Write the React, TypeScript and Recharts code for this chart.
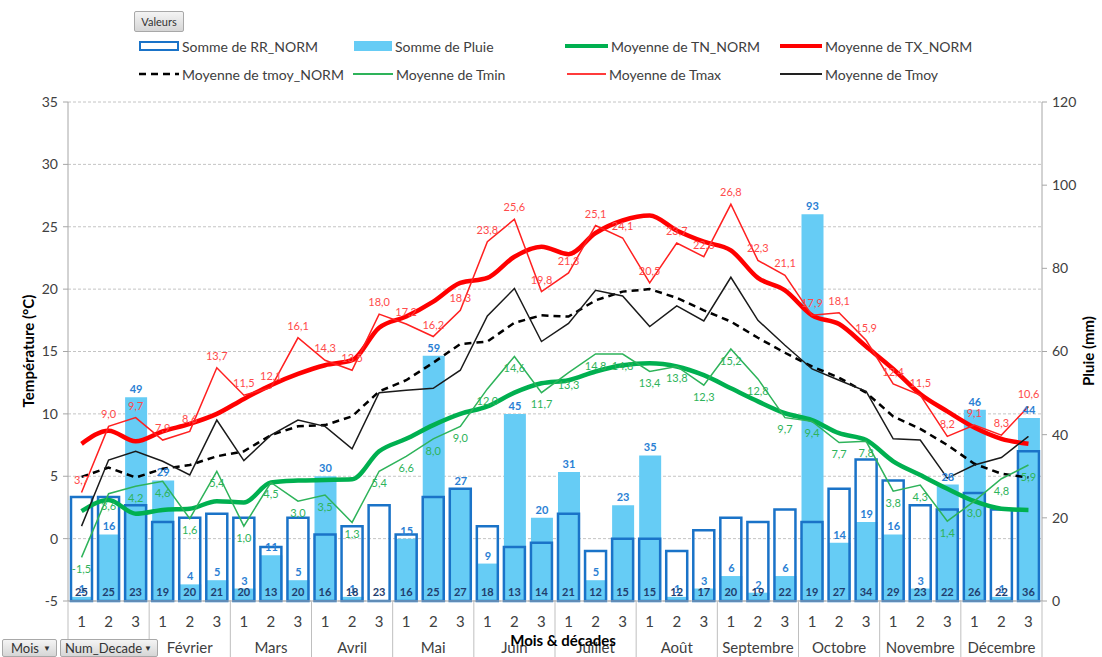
import React from 'react';
import { ComposedChart, Bar, Line, XAxis, YAxis, CartesianGrid, LabelList } from 'recharts';

// categories
const moisLabels = ['Janvier', 'Février', 'Mars', 'Avril', 'Mai', 'Juin', 'Juillet', 'Août', 'Septembre', 'Octobre', 'Novembre', 'Décembre'];
const decadeLabels = ['1', '2', '3'];

// rain (mm), right axis
const rrNorm = [25, 25, 23, 19, 20, 21, 20, 13, 20, 16, 18, 23, 16, 25, 27, 18, 13, 14, 21, 12, 15, 15, 12, 17, 20, 19, 22, 19, 27, 34, 29, 23, 22, 26, 22, 36];
const pluie = [1, 16, 49, 29, 4, 5, 3, 11, 5, 30, 1, 0, 15, 59, 27, 9, 45, 20, 31, 5, 23, 35, 1, 3, 6, 2, 6, 93, 14, 19, 16, 3, 28, 46, 1, 44];

// temperatures (°C), left axis
const tnNorm = [2.2, 3.1, 2.0, 2.3, 2.4, 3.0, 2.9, 4.5, 4.65, 4.7, 4.75, 7.0, 8.0, 9.1, 10.0, 10.6, 11.7, 12.45, 12.7, 13.4, 13.9, 14.05, 13.8, 13.1, 12.05, 11.0, 10.05, 9.5, 8.45, 7.9, 6.2, 5.1, 4.0, 3.0, 2.4, 2.3];
const txNorm = [7.6, 8.65, 7.8, 8.6, 9.2, 10.0, 11.2, 12.3, 13.2, 13.9, 14.3, 16.9, 17.8, 19.0, 20.5, 20.9, 22.6, 23.4, 22.8, 24.5, 25.5, 25.9, 24.7, 23.8, 23.1, 20.9, 19.9, 17.9, 17.2, 15.4, 13.6, 11.6, 10.2, 8.9, 8.0, 7.6];
const tmoyNorm = [4.95, 5.7, 4.9, 5.6, 5.9, 6.6, 7.0, 8.3, 9.0, 9.1, 9.8, 11.8, 12.7, 14.1, 15.6, 15.8, 17.3, 17.9, 17.8, 19.1, 19.8, 20.0, 19.3, 18.3, 17.4, 16.1, 14.9, 13.8, 12.9, 11.7, 9.8, 8.8, 7.5, 6.0, 5.2, 4.9];
const tmin = [-1.5, 3.6, 4.2, 4.6, 1.6, 5.4, 1.0, 4.5, 3.0, 3.5, 1.3, 5.4, 6.6, 8.0, 9.0, 12.0, 14.6, 11.7, 13.3, 14.8, 14.8, 13.4, 13.8, 12.3, 15.2, 12.8, 9.7, 9.4, 7.7, 7.8, 3.8, 4.3, 1.4, 3.0, 4.8, 5.9];
const tmax = [3.7, 9.0, 9.7, 7.9, 8.6, 13.7, 11.5, 12.1, 16.1, 14.3, 13.5, 18.0, 17.2, 16.2, 18.3, 23.8, 25.6, 19.8, 21.3, 25.1, 24.1, 20.5, 23.7, 22.6, 26.8, 22.3, 21.1, 17.9, 18.1, 15.9, 12.4, 11.5, 8.2, 9.1, 8.3, 10.6];
const tmoy = [1.0, 6.3, 7.0, 6.2, 5.1, 9.5, 6.25, 8.3, 9.5, 9.0, 7.2, 11.7, 11.9, 12.05, 13.5, 17.85, 20.05, 15.8, 17.25, 19.9, 19.45, 17.0, 18.65, 17.45, 20.95, 17.5, 15.5, 13.6, 12.7, 11.8, 8.0, 7.9, 4.85, 5.9, 6.5, 8.2];

const tempTicks = [-5, 0, 5, 10, 15, 20, 25, 30, 35];
const rainTicks = [0, 20, 40, 60, 80, 100, 120];

const data = rrNorm.map((rr, i) => ({
  id: i,
  mois: moisLabels[Math.floor(i / 3)],
  decade: decadeLabels[i % 3],
  rrNorm: rr,
  pluie: pluie[i],
  tnNorm: tnNorm[i],
  txNorm: txNorm[i],
  tmoyNorm: tmoyNorm[i],
  tmin: tmin[i],
  tmax: tmax[i],
  tmoy: tmoy[i],
}));

const FONT = 'Lato, "Open Sans", sans-serif';
const AXIS = '#a6a6a6';
const TEXT = '#404040';
const BLUE = '#1A73C8';
const SKY = '#66CCF5';
const GREEN = '#00B050';
const RED = '#FF0000';

const fmt = (v: any) => Number(v).toFixed(1).replace('.', ',');

const DecadeTick = (props: any) => {
  const { x, y, payload } = props;
  const i = payload?.index ?? props.index ?? 0;
  const row = data[i];
  const half = payload?.offset || 13.5;
  // the first month name sits under the Num_Decade field button, as in Excel
  const showMonth = i % 3 === 1 && i > 1;
  return (
    <g>
      <text x={x} y={y + 26} textAnchor="middle" fill={TEXT} fontSize={15} fontFamily={FONT}>
        {row.decade}
      </text>
      {showMonth && (
        <text x={x} y={y + 52} textAnchor="middle" fill={TEXT} fontSize={15} fontFamily={FONT}>
          {row.mois}
        </text>
      )}
      {i % 3 === 0 && <line x1={x - half} x2={x - half} y1={y} y2={y + 56} stroke="#bfbfbf" />}
      {i === data.length - 1 && <line x1={x + half} x2={x + half} y1={y} y2={y + 56} stroke="#bfbfbf" />}
    </g>
  );
};

const LegendIcon = ({ kind }: { kind: string }) => {
  switch (kind) {
    case 'rr':
      return <div style={{ width: 36, height: 6, border: `2.5px solid ${BLUE}`, background: '#fff' }} />;
    case 'pluie':
      return <div style={{ width: 38, height: 10, background: SKY }} />;
    case 'tn':
      return <div style={{ width: 43, height: 4, background: GREEN }} />;
    case 'tx':
      return <div style={{ width: 42, height: 4, background: RED }} />;
    case 'tmoyN':
      return (
        <svg width={40} height={4}>
          <line x1={0} x2={40} y1={2} y2={2} stroke="#000" strokeWidth={2.5} strokeDasharray="7 5" />
        </svg>
      );
    case 'tmin':
      return <div style={{ width: 40, height: 2, background: '#2EB35A' }} />;
    case 'tmax':
      return <div style={{ width: 39, height: 2, background: '#FF3B3B' }} />;
    default:
      return <div style={{ width: 42, height: 2, background: '#222' }} />;
  }
};

const legendItems = [
  { kind: 'rr', label: 'Somme de RR_NORM', x: 139, y: 46 },
  { kind: 'pluie', label: 'Somme de Pluie', x: 354, y: 46 },
  { kind: 'tn', label: 'Moyenne de TN_NORM', x: 565, y: 46 },
  { kind: 'tx', label: 'Moyenne de TX_NORM', x: 780, y: 46 },
  { kind: 'tmoyN', label: 'Moyenne de tmoy_NORM', x: 139, y: 74 },
  { kind: 'tmin', label: 'Moyenne de Tmin', x: 353, y: 74 },
  { kind: 'tmax', label: 'Moyenne de Tmax', x: 567, y: 74 },
  { kind: 'tmoy', label: 'Moyenne de Tmoy', x: 780, y: 74 },
];

const btn: React.CSSProperties = {
  position: 'absolute',
  boxSizing: 'border-box',
  border: '1px solid #a8a8a8',
  borderRadius: 2,
  background: 'linear-gradient(#f4f4f4, #d6d6d6)',
  color: '#333',
  fontFamily: FONT,
  display: 'flex',
  alignItems: 'center',
  whiteSpace: 'nowrap',
};

export default function App() {
  return (
    <div style={{ position: 'absolute', left: 0, top: 0, width: 1102, height: 657, background: '#fff', fontFamily: FONT, overflow: 'hidden' }}>
      <ComposedChart width={1102} height={657} data={data} margin={{ top: 102, right: 0, bottom: 0, left: 0 }}>
        <CartesianGrid xAxisId="m" yAxisId="t" vertical={false} stroke="#c4c4c4" strokeDasharray="3 2" />
        <XAxis
          xAxisId="m"
          dataKey="id"
          interval={0}
          height={56}
          tickSize={0}
          tickMargin={0}
          tickLine={false}
          axisLine={{ stroke: AXIS }}
          tick={<DecadeTick />}
        />
        <XAxis xAxisId="rr" dataKey="id" hide />
        <YAxis
          yAxisId="t"
          width={68}
          domain={[-5, 35]}
          ticks={tempTicks}
          interval={0}
          tickSize={5}
          tickMargin={5}
          axisLine={{ stroke: AXIS }}
          tickLine={{ stroke: AXIS }}
          tick={{ fill: TEXT, fontSize: 14, fontFamily: FONT }}
        />
        <YAxis
          yAxisId="p"
          orientation="right"
          width={60}
          domain={[0, 120]}
          ticks={rainTicks}
          interval={0}
          tickSize={5}
          tickMargin={5}
          axisLine={{ stroke: AXIS }}
          tickLine={{ stroke: AXIS }}
          tick={{ fill: TEXT, fontSize: 14, fontFamily: FONT }}
        />
        <Bar xAxisId="m" yAxisId="p" dataKey="pluie" name="Somme de Pluie" barSize={22} fill={SKY} isAnimationActive={false}>
          <LabelList dataKey="pluie" position="top" offset={4} fill="#2A7FD4" fontSize={11} fontWeight="bold" fontFamily={FONT} />
        </Bar>
        <Bar
          xAxisId="rr"
          yAxisId="p"
          dataKey="rrNorm"
          name="Somme de RR_NORM"
          barSize={21}
          fill="none"
          stroke={BLUE}
          strokeWidth={2.5}
          isAnimationActive={false}
        >
          <LabelList dataKey="rrNorm" position="insideBottom" offset={5} fill="#1F3D6E" fontSize={11} fontWeight="bold" fontFamily={FONT} />
        </Bar>
        <Line xAxisId="m" yAxisId="t" type="monotone" dataKey="tnNorm" name="Moyenne de TN_NORM" stroke={GREEN} strokeWidth={4.5} dot={false} activeDot={false} isAnimationActive={false} />
        <Line xAxisId="m" yAxisId="t" type="monotone" dataKey="txNorm" name="Moyenne de TX_NORM" stroke={RED} strokeWidth={4.5} dot={false} activeDot={false} isAnimationActive={false} />
        <Line xAxisId="m" yAxisId="t" type="linear" dataKey="tmoyNorm" name="Moyenne de tmoy_NORM" stroke="#000" strokeWidth={2.5} strokeDasharray="7 5" dot={false} activeDot={false} isAnimationActive={false} />
        <Line xAxisId="m" yAxisId="t" type="linear" dataKey="tmin" name="Moyenne de Tmin" stroke="#2EB35A" strokeWidth={1.5} dot={false} activeDot={false} isAnimationActive={false}>
          <LabelList dataKey="tmin" position="bottom" offset={8} formatter={fmt} fill="#2EB35A" fontSize={11} fontFamily={FONT} />
        </Line>
        <Line xAxisId="m" yAxisId="t" type="linear" dataKey="tmax" name="Moyenne de Tmax" stroke="#FF2020" strokeWidth={1.5} dot={false} activeDot={false} isAnimationActive={false}>
          <LabelList dataKey="tmax" position="top" offset={8} formatter={fmt} fill="#FF4B4B" fontSize={11} fontFamily={FONT} />
        </Line>
        <Line xAxisId="m" yAxisId="t" type="linear" dataKey="tmoy" name="Moyenne de Tmoy" stroke="#1a1a1a" strokeWidth={1.5} dot={false} activeDot={false} isAnimationActive={false} />
      </ComposedChart>

      {/* legend */}
      {legendItems.map((it) => (
        <div key={it.label} style={{ position: 'absolute', left: it.x, top: it.y - 10, height: 20, display: 'flex', alignItems: 'center', gap: 3, whiteSpace: 'nowrap' }}>
          <LegendIcon kind={it.kind} />
          <span style={{ fontSize: 14, color: TEXT }}>{it.label}</span>
        </div>
      ))}

      {/* pivot field buttons */}
      <div style={{ ...btn, left: 134, top: 11, width: 50, height: 21, justifyContent: 'center', fontSize: 11 }}>Valeurs</div>
      <div style={{ ...btn, left: 2, top: 639, width: 55, height: 18, paddingLeft: 8, fontSize: 13 }}>
        Mois<span style={{ position: 'absolute', right: 5, fontSize: 8 }}>▼</span>
      </div>
      <div style={{ ...btn, left: 60, top: 639, width: 98, height: 18, paddingLeft: 4, fontSize: 13 }}>
        Num_Decade<span style={{ position: 'absolute', right: 5, fontSize: 8 }}>▼</span>
      </div>

      {/* axis titles */}
      <div style={{ position: 'absolute', left: 28, top: 351, transform: 'translate(-50%, -50%) rotate(-90deg)', whiteSpace: 'nowrap', fontWeight: 700, fontSize: 15, color: '#000' }}>
        Température (°C)
      </div>
      <div style={{ position: 'absolute', left: 1088, top: 351, transform: 'translate(-50%, -50%) rotate(-90deg)', whiteSpace: 'nowrap', fontWeight: 700, fontSize: 15, color: '#000' }}>
        Pluie (mm)
      </div>
      <div style={{ position: 'absolute', left: 563, top: 640, transform: 'translate(-50%, -50%)', whiteSpace: 'nowrap', fontWeight: 700, fontSize: 15, color: '#000' }}>
        Mois &amp; décades
      </div>
    </div>
  );
}
